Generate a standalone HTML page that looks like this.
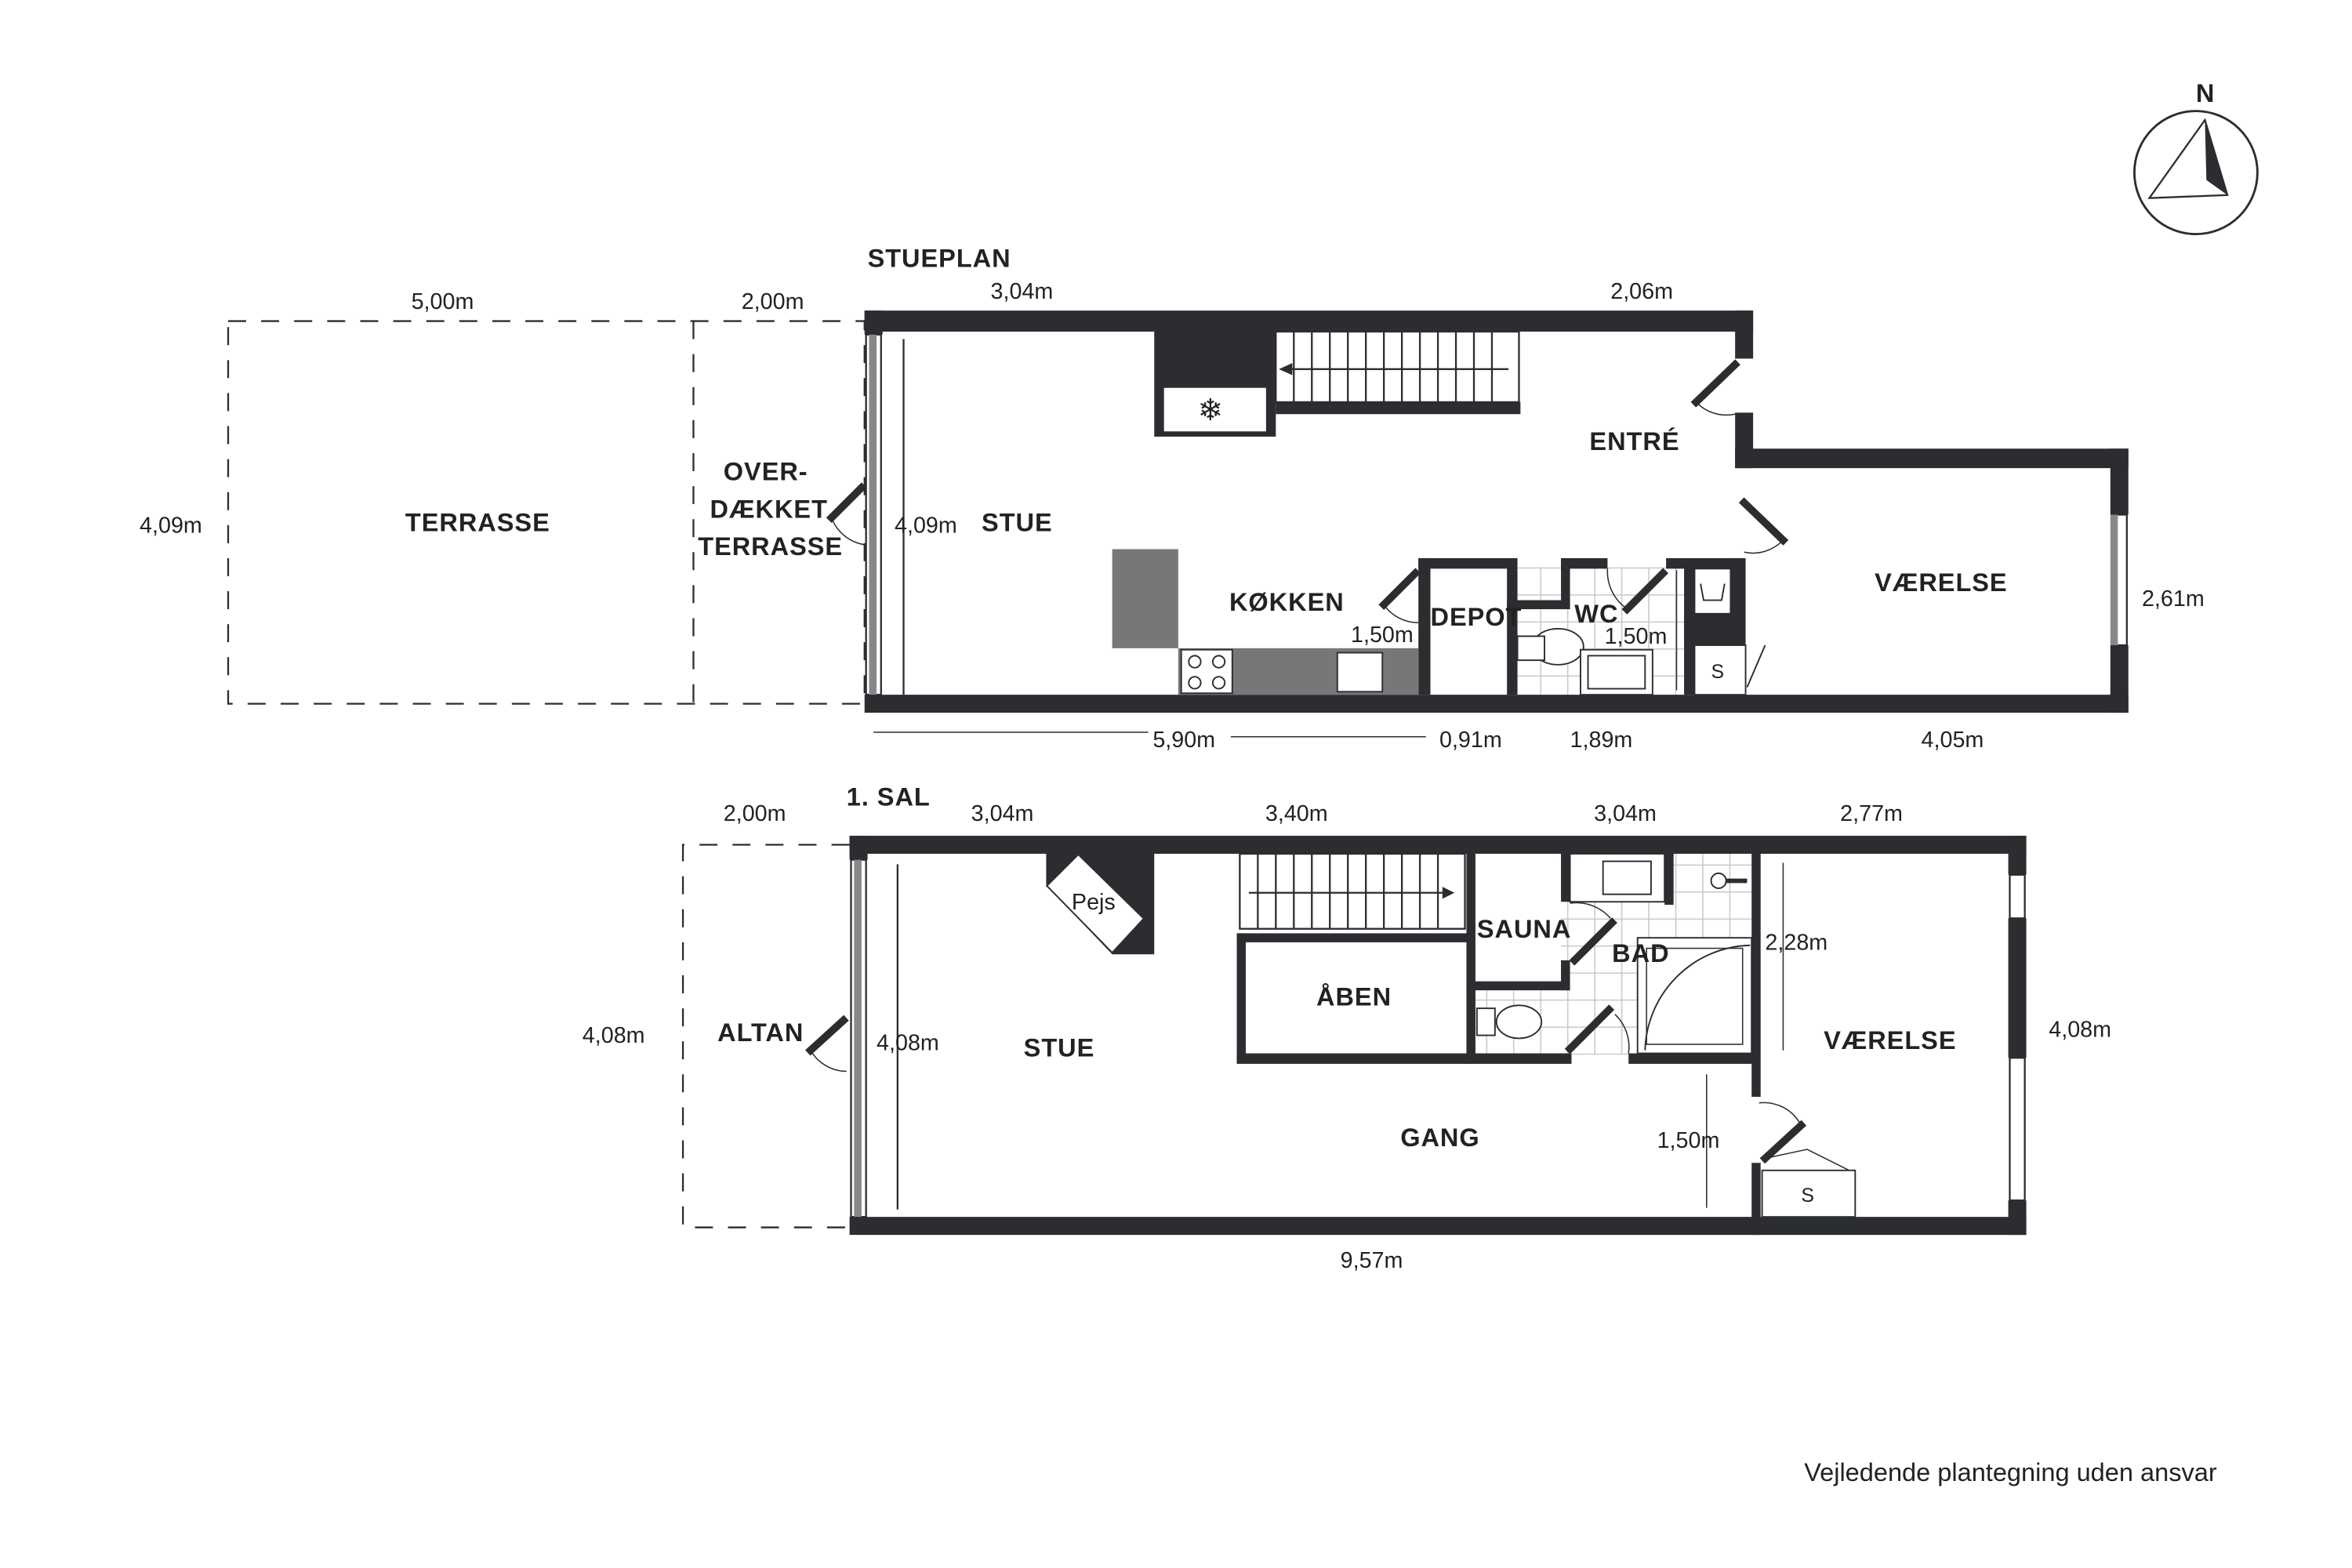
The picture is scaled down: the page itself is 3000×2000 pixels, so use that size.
<!DOCTYPE html>
<html><head><meta charset="utf-8"><style>
html,body{margin:0;padding:0;background:#fff}
svg{display:block}
text{font-family:"Liberation Sans",sans-serif;fill:#222}
.b{font-weight:bold;font-size:17px;letter-spacing:.5px}
.d{font-size:15px}
</style></head><body>
<svg width="3000" height="2000" viewBox="0 0 1567 1045" preserveAspectRatio="none" xmlns="http://www.w3.org/2000/svg">
<defs>
<pattern id="tile" width="18" height="18" patternUnits="userSpaceOnUse">
<rect width="18" height="18" fill="#fff"/>
<path d="M0 0.5H18M0.5 0V18" stroke="#c8c8c8" stroke-width="0.8"/>
</pattern>
</defs>
<rect x="1010" y="378" width="112" height="85" fill="url(#tile)"/>
<rect x="1040" y="569" width="128" height="134" fill="url(#tile)"/>
<rect x="983" y="660" width="60" height="43" fill="url(#tile)"/>
<g fill="#2b2d30">
<rect x="576" y="207" width="592" height="14"/>
<rect x="1156" y="207" width="12" height="32"/>
<rect x="1156" y="275" width="12" height="37"/>
<rect x="1156" y="299" width="262" height="13"/>
<rect x="1406" y="299" width="12" height="44"/>
<rect x="1406" y="430" width="12" height="45"/>
<rect x="576" y="463" width="842" height="12"/>
<rect x="576" y="207" width="12" height="16"/>
<rect x="769" y="220" width="81" height="71"/>
<rect x="850" y="268" width="163" height="8"/>
<rect x="945" y="372" width="65" height="7"/>
<rect x="945" y="372" width="8" height="91"/>
<rect x="1004" y="372" width="7" height="91"/>
<rect x="1004" y="400" width="42" height="6"/>
<rect x="1040" y="372" width="6" height="34"/>
<rect x="1040" y="372" width="31" height="7"/>
<rect x="1110" y="372" width="52" height="7"/>
<rect x="1153" y="372" width="10" height="58"/>
<rect x="1122" y="378" width="7" height="85"/>
<rect x="1122" y="409" width="40" height="21"/>
<rect x="566" y="557" width="784" height="12"/>
<rect x="566" y="811" width="784" height="12"/>
<rect x="566" y="557" width="12" height="16"/>
<rect x="1338" y="557" width="12" height="26"/>
<rect x="1338" y="612" width="12" height="93"/>
<rect x="1338" y="800" width="12" height="23"/>
<rect x="824" y="622" width="156" height="6"/>
<rect x="824" y="622" width="6" height="86"/>
<rect x="824" y="702" width="223" height="7"/>
<rect x="1085" y="702" width="87" height="7"/>
<rect x="977" y="569" width="6" height="140"/>
<rect x="977" y="654" width="69" height="6"/>
<rect x="1040" y="569" width="6" height="32"/>
<rect x="1040" y="640" width="6" height="20"/>
<rect x="1109" y="569" width="6" height="34"/>
<rect x="1167" y="569" width="6" height="162"/>
<rect x="1167" y="775" width="6" height="48"/>
<polygon points="697,569 769,569 769,636 741,636 697,590"/>
</g>
<polygon points="718.4,569.5 762,612.2 741,634.9 697.5,590.4" fill="#fff" stroke="#2b2d30" stroke-width="1"/>
<text x="714" y="606" font-size="15">Pejs</text>
<g stroke="#2b2d30" fill="none" stroke-width="1.2">
<rect x="577" y="223" width="10" height="240"/>
<line x1="582" y1="223" x2="582" y2="463"/>
<line x1="602" y1="226" x2="602" y2="463"/>
<rect x="1407" y="343" width="10" height="87"/>
<rect x="567" y="573" width="10" height="238"/>
<line x1="572" y1="573" x2="572" y2="811"/>
<line x1="598" y1="576" x2="598" y2="806"/>
<rect x="1339" y="583" width="10" height="29"/>
<rect x="1339" y="705" width="10" height="95"/>
</g>
<rect x="579" y="223" width="5" height="240" fill="#888"/>
<rect x="569" y="573" width="5" height="238" fill="#888"/>
<rect x="1406" y="343" width="5" height="87" fill="#888"/>
<rect x="775" y="258" width="69" height="30" fill="#fff" stroke="#2b2d30"/>
<text x="798" y="280" font-size="20">❄</text>
<g stroke="#2b2d30" stroke-width="1.2" fill="none">
<rect x="850" y="221" width="162" height="47"/>
<path d="M862 221v47M874 221v47M886 221v47M898 221v47M910 221v47M922 221v47M934 221v47M946 221v47M958 221v47M970 221v47M982 221v47M994 221v47"/>
<line x1="858" y1="246" x2="1005" y2="246"/>
<rect x="826" y="569" width="150" height="50"/>
<path d="M838 569v50M850 569v50M862 569v50M874 569v50M886 569v50M898 569v50M910 569v50M922 569v50M934 569v50M946 569v50M958 569v50"/>
<line x1="832" y1="595" x2="968" y2="595"/>
</g>
<path d="M852 246l9-4v8z" fill="#2b2d30"/>
<path d="M961 591l8 4-8 4z" fill="#2b2d30"/>
<rect x="741" y="366" width="44" height="66" fill="#777"/>
<rect x="785" y="432" width="160" height="31" fill="#777"/>
<rect x="787" y="433" width="34" height="29" fill="#fff" stroke="#2b2d30"/>
<circle cx="796" cy="441" r="4" fill="none" stroke="#2b2d30"/><circle cx="812" cy="441" r="4" fill="none" stroke="#2b2d30"/>
<circle cx="796" cy="455" r="4" fill="none" stroke="#2b2d30"/><circle cx="812" cy="455" r="4" fill="none" stroke="#2b2d30"/>
<rect x="891" y="435" width="30" height="26" fill="#fff" stroke="#2b2d30"/>
<ellipse cx="1038" cy="431" rx="17" ry="12" fill="#fff" stroke="#2b2d30"/>
<rect x="1011" y="424" width="18" height="16" fill="#fff" stroke="#2b2d30"/>
<rect x="1053" y="433" width="48" height="30" fill="#fff" stroke="#2b2d30"/>
<rect x="1058" y="437" width="38" height="22" fill="none" stroke="#2b2d30"/>
<rect x="1129" y="379" width="24" height="30" fill="#fff" stroke="#2b2d30"/>
<path d="M1133 389l2 11h12l2-11" fill="none" stroke="#2b2d30"/>
<rect x="1129" y="430" width="34" height="33" fill="#fff" stroke="#2b2d30"/>
<line x1="1164" y1="458" x2="1176" y2="430" stroke="#2b2d30"/>
<rect x="1046" y="569" width="63" height="32" fill="#fff" stroke="#2b2d30"/>
<rect x="1068" y="574" width="32" height="22" fill="#fff" stroke="#2b2d30"/>
<rect x="1091" y="625" width="76" height="77" fill="#fff" stroke="#2b2d30"/>
<path d="M1096 700a72 72 0 0 1 70 -70" fill="none" stroke="#2b2d30"/>
<rect x="1097" y="632" width="64" height="64" fill="none" stroke="#2b2d30" stroke-width=".8"/>
<path d="M1142 587h22" stroke="#2b2d30" stroke-width="3"/><circle cx="1145" cy="587" r="5" fill="#fff" stroke="#2b2d30"/>
<ellipse cx="1012" cy="681" rx="15" ry="11" fill="#fff" stroke="#2b2d30"/>
<rect x="984" y="672" width="12" height="18" fill="#fff" stroke="#2b2d30"/>
<rect x="1174" y="780" width="62" height="31" fill="#fff" stroke="#2b2d30"/>
<g stroke="#2b2d30" stroke-width="5" stroke-linecap="square">
<line x1="574" y1="325" x2="554" y2="345"/>
<line x1="1156" y1="243" x2="1130" y2="268"/>
<line x1="1162" y1="335" x2="1188" y2="360"/>
<line x1="943" y1="382" x2="922" y2="403"/>
<line x1="1108" y1="382" x2="1084" y2="406"/>
<line x1="562" y1="680" x2="540" y2="700"/>
<line x1="1074" y1="615" x2="1049" y2="640"/>
<line x1="1072" y1="673" x2="1046" y2="699"/>
<line x1="1200" y1="750" x2="1176" y2="772"/>
</g>
<g stroke="#2b2d30" stroke-width=".8" fill="none">
<path d="M554 345a28 28 0 0 0 22 18"/><path d="M1130 268a28 28 0 0 0 26 8"/>
<path d="M1188 360a28 28 0 0 1 -26 8"/><path d="M922 403a28 28 0 0 0 23 12"/>
<path d="M1071 379a30 30 0 0 0 12 26"/>
<path d="M540 700a28 28 0 0 0 24 14"/>
<path d="M1046 602a30 30 0 0 1 27 10"/>
<path d="M1076 676a30 30 0 0 1 9 26"/>
<path d="M1172 735a28 28 0 0 1 28 15"/>
<path d="M1176 772l28 -6 28 14"/>
<line x1="1137" y1="716" x2="1137" y2="805"/>
<line x1="1188" y1="575" x2="1188" y2="700"/>
<line x1="1117" y1="380" x2="1117" y2="460"/>
<line x1="582" y1="488" x2="765" y2="488"/><line x1="820" y1="491" x2="950" y2="491"/>
</g>
<g stroke="#2b2d30" stroke-width="1.2" fill="none" stroke-dasharray="12,10">
<rect x="152" y="214" width="424" height="255"/>
<line x1="462" y1="214" x2="462" y2="469"/>
<path d="M566 563H455V818H566"/>
</g>
<circle cx="1463" cy="115" r="41" fill="none" stroke="#2b2d30" stroke-width="1.5"/>
<path d="M1469 80L1484 130L1432 132Z" fill="none" stroke="#2b2d30" stroke-width="1.2"/>
<path d="M1469 80L1484 130L1470 120Z" fill="#2b2d30"/>
<text x="1463" y="68" class="b">N</text>
<text x="578" y="178" class="b">STUEPLAN</text>
<text x="564" y="537" class="b">1. SAL</text>
<text x="270" y="354" class="b">TERRASSE</text>
<text x="482" y="320" class="b">OVER-</text>
<text x="473" y="345" class="b">DÆKKET</text>
<text x="465" y="370" class="b">TERRASSE</text>
<text x="654" y="354" class="b">STUE</text>
<text x="1059" y="300" class="b">ENTRÉ</text>
<text x="819" y="407" class="b">KØKKEN</text>
<text x="953" y="417" class="b" font-size="15" letter-spacing="0">DEPOT</text>
<text x="1049" y="415" class="b">WC</text>
<text x="1249" y="394" class="b">VÆRELSE</text>
<text x="478" y="694" class="b">ALTAN</text>
<text x="682" y="704" class="b">STUE</text>
<text x="877" y="670" class="b">ÅBEN</text>
<text x="984" y="625" class="b">SAUNA</text>
<text x="1074" y="641" class="b">BAD</text>
<text x="1215" y="699" class="b">VÆRELSE</text>
<text x="933" y="764" class="b">GANG</text>
<text x="1140" y="452" font-size="13">S</text>
<text x="1200" y="801" font-size="13">S</text>
<text x="274" y="206" class="d">5,00m</text>
<text x="494" y="206" class="d">2,00m</text>
<text x="660" y="199" class="d">3,04m</text>
<text x="1073" y="199" class="d">2,06m</text>
<text x="93" y="355" class="d">4,09m</text>
<text x="596" y="355" class="d">4,09m</text>
<text x="1427" y="404" class="d">2,61m</text>
<text x="900" y="428" class="d">1,50m</text>
<text x="1069" y="429" class="d">1,50m</text>
<text x="768" y="498" class="d">5,90m</text>
<text x="959" y="498" class="d">0,91m</text>
<text x="1046" y="498" class="d">1,89m</text>
<text x="1280" y="498" class="d">4,05m</text>
<text x="482" y="547" class="d">2,00m</text>
<text x="647" y="547" class="d">3,04m</text>
<text x="843" y="547" class="d">3,40m</text>
<text x="1062" y="547" class="d">3,04m</text>
<text x="1226" y="547" class="d">2,77m</text>
<text x="388" y="695" class="d">4,08m</text>
<text x="584" y="700" class="d">4,08m</text>
<text x="1176" y="633" class="d">2,28m</text>
<text x="1365" y="691" class="d">4,08m</text>
<text x="1104" y="765" class="d">1,50m</text>
<text x="893" y="845" class="d">9,57m</text>
<text x="1202" y="987" font-size="17">Vejledende plantegning uden ansvar</text>
</svg>
</body></html>
